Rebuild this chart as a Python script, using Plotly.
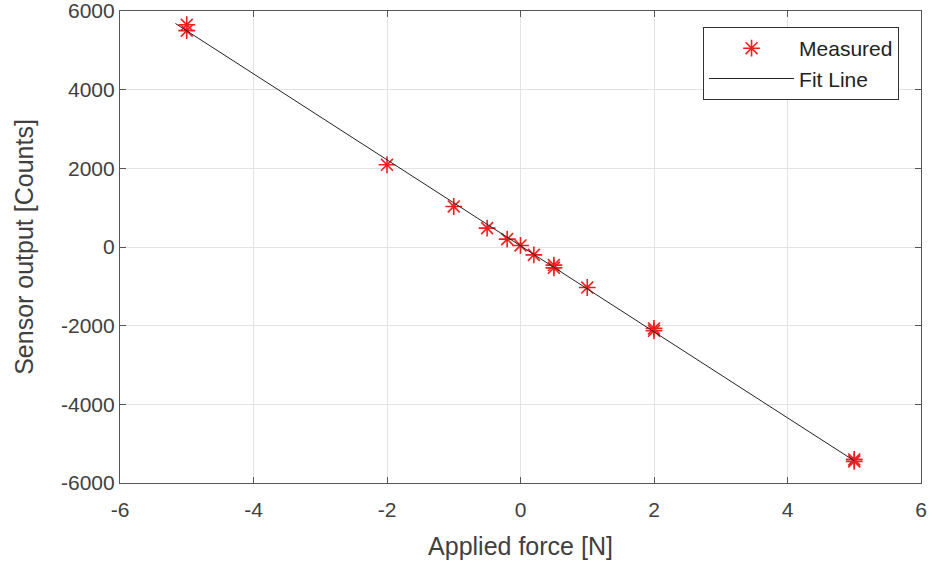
import numpy as np
import plotly.graph_objects as go

# Measured data
force = [-5, -5, -2, -1, -0.5, -0.2, 0, 0.2, 0.5, 0.5, 1, 2, 2, 5, 5]
counts = [5650, 5500, 2090, 1030, 480, 200, 40, -200, -460, -530, -1030, -2070, -2130, -5400, -5450]

# Fit line range
fit_range = [-5.17, 5.0]

x_ticks = [-6, -4, -2, 0, 2, 4, 6]
y_ticks = [-6000, -4000, -2000, 0, 2000, 4000, 6000]

slope, intercept = np.polyfit(force, counts, 1)
fit_x = np.array(fit_range)
fit_y = slope * fit_x + intercept

fig = go.Figure()
fig.add_trace(go.Scatter(
    x=force, y=counts, mode="markers", name="Measured",
    marker=dict(symbol="asterisk-open", size=14, color="#f01e1e",
                line=dict(width=1.6, color="#f01e1e")),
))
fig.add_trace(go.Scatter(
    x=fit_x, y=fit_y, mode="lines", name="Fit Line",
    line=dict(color="#222222", width=1),
))

axis_common = dict(
    showgrid=True, gridcolor="#e3e3e3", gridwidth=1, automargin=False,
    zeroline=False, showline=True, linecolor="#555555", linewidth=1.2,
    mirror="ticks", ticks="inside", ticklen=6, tickcolor="#555555",
    ticklabeloverflow="allow",
    tickfont=dict(family="Liberation Sans, Arial, sans-serif", size=21, color="#404040"),
)

fig.update_layout(
    width=934, height=569,
    margin=dict(l=120, r=13, t=11, b=86),
    plot_bgcolor="white", paper_bgcolor="white",
    font=dict(family="Liberation Sans, Arial, sans-serif", color="#404040"),
    xaxis=dict(range=[-6, 6], tickvals=x_ticks, ticktext=[str(v) for v in x_ticks],
               ticklabelstandoff=8,
               title=dict(text="Applied force [N]", font=dict(size=25, color="#404040"), standoff=17),
               **axis_common),
    yaxis=dict(range=[-6000, 6000], tickvals=y_ticks, ticktext=[str(v) for v in y_ticks],
               title=dict(text="Sensor output [Counts]", font=dict(size=25, color="#404040"), standoff=20),
               **axis_common),
    legend=dict(x=0.9726, y=0.966, xanchor="right", yanchor="top",
                bgcolor="white", bordercolor="#333333", borderwidth=1,
                font=dict(size=21, color="#222222"), itemwidth=85,
                tracegroupgap=0),
    showlegend=True,
)

fig.write_html("out.html")
